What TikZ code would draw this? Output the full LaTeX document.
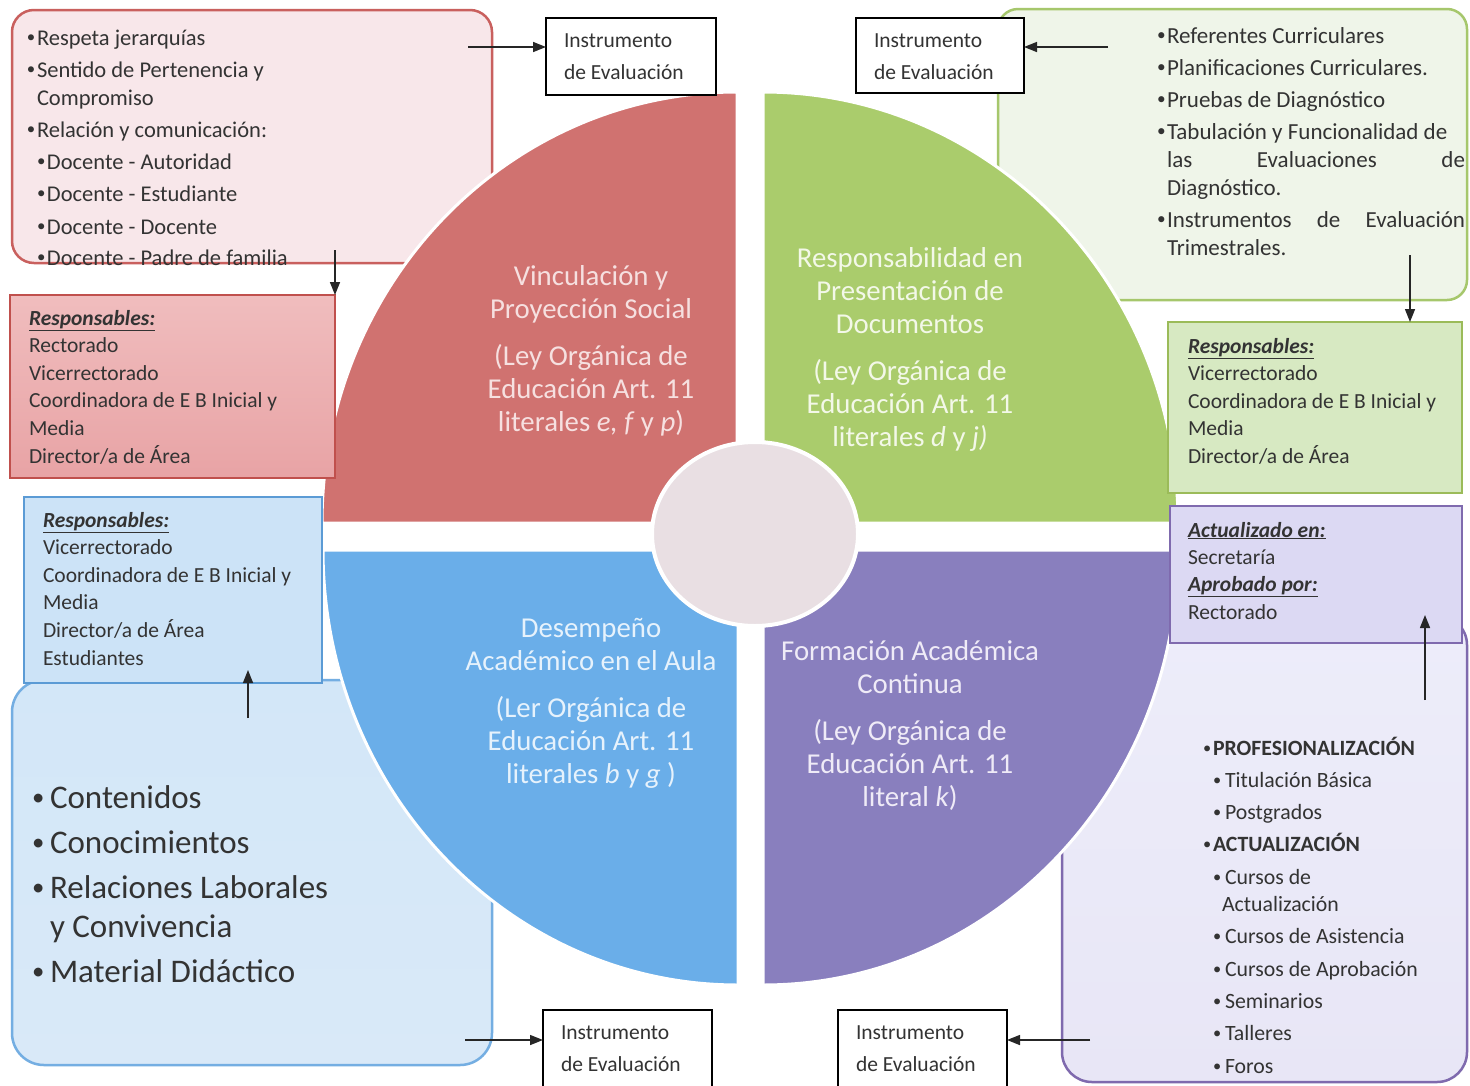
\documentclass[tikz,border=0pt]{standalone}
\usepackage{fontspec}
\usepackage{graphicx}
\setmainfont{Carlito}
\usetikzlibrary{arrows.meta}
\definecolor{qred}{HTML}{D07270}
\definecolor{qgreen}{HTML}{AACC6C}
\definecolor{qblue}{HTML}{6AAEE9}
\definecolor{qpurple}{HTML}{897FBE}
\definecolor{cpink}{HTML}{E9DFE3}
\definecolor{pinkfill}{HTML}{F8E7EA}
\definecolor{pinkline}{HTML}{C9605E}
\definecolor{redtop}{HTML}{F0BDBE}
\definecolor{redbot}{HTML}{E8A3A5}
\definecolor{redline}{HTML}{C0504D}
\definecolor{bluerespfill}{HTML}{CCE3F7}
\definecolor{blueline}{HTML}{5B9BD5}
\definecolor{bluebigline}{HTML}{74AEE2}
\definecolor{bluetop}{HTML}{D3E7F8}
\definecolor{bluemid}{HTML}{F0E7F1}
\definecolor{bluebot}{HTML}{D9E9F8}
\definecolor{greenbigfill}{HTML}{EFF5E9}
\definecolor{greenline}{HTML}{A6C76C}
\definecolor{greenrespfill}{HTML}{D7E9C2}
\definecolor{greenrespline}{HTML}{9BBB59}
\definecolor{purprespfill}{HTML}{DCD9F3}
\definecolor{purpline}{HTML}{7F6AAE}
\definecolor{purptop}{HTML}{EDEDFA}
\definecolor{purpmid}{HTML}{F5E9F1}
\definecolor{purpbot}{HTML}{E8E6F6}
\definecolor{textc}{HTML}{333333}
\definecolor{tred}{HTML}{F6E0E0}
\definecolor{tgreen}{HTML}{F3F8E8}
\definecolor{tblue}{HTML}{E6F2FC}
\definecolor{tpurple}{HTML}{EFEBF7}
\newcommand\fs[2]{\fontsize{#1}{#2}\selectfont}
\newcommand\dotb{\raisebox{0.09em}{\scalebox{0.75}{\textbullet}}}
\newcommand\bu{\makebox[10pt][l]{\dotb}}
\newcommand\bus{\makebox[12pt][l]{\dotb}}
\newcommand\bub{\makebox[18pt][l]{\dotb}}
\newcommand\resp[1]{\underline{\textbf{\textit{#1}}}}
\tikzset{
  box/.style={inner sep=0pt, outer sep=0pt, anchor=north west, line width=2.5pt},
  inst/.style={box, draw=black, fill=white, line width=1.5pt},
  txt/.style={inner sep=0pt, outer sep=0pt, anchor=base west, text=textc},
  qtxt/.style={inner sep=0pt, outer sep=0pt, anchor=base},
  quad/.style={draw=white, line width=3pt},
  arr/.style={-{Triangle[length=13pt,width=10pt]}, line width=1.5pt, draw=black!85},
}
\begin{document}
\begin{tikzpicture}[x=1pt,y=-1pt]
\clip (0,0) rectangle (1470,1085);
\fill[white] (0,0) rectangle (1470,1085);

% big background boxes
\node[box, draw=pinkline, fill=pinkfill, rounded corners=22pt, minimum width=480pt, minimum height=253pt] (pinkbox) at (12,10) {};
\node[box, draw=greenline, fill=greenbigfill, rounded corners=20pt, minimum width=469pt, minimum height=291pt] (greenbox) at (998,9) {};
\node[box, draw=bluebigline, top color=bluetop, middle color=bluemid, bottom color=bluebot, rounded corners=32pt, minimum width=480pt, minimum height=385pt] (bluebox) at (12,680) {};
\node[box, draw=purpline, top color=purptop, middle color=purpmid, bottom color=purpbot, rounded corners=30pt, minimum width=405pt, minimum height=467pt] (purpbox) at (1062,615) {};

% quadrants
\fill[qred, quad] (737,523) -- (322,523) arc[start angle=180, end angle=90, x radius=415pt, y radius=431pt] -- cycle;
\fill[qgreen, quad] (763,523) -- (763,92) arc[start angle=90, end angle=0, x radius=415pt, y radius=431pt] -- cycle;
\fill[qblue, quad] (738,550) -- (323,550) arc[start angle=180, end angle=270, x radius=415pt, y radius=435pt] -- cycle;
\fill[qpurple, quad] (763,550) -- (1178,550) arc[start angle=0, end angle=-90, x radius=415pt, y radius=435pt] -- cycle;
\fill[cpink, draw=white, line width=4pt] (755,534) ellipse [x radius=103pt, y radius=92pt];

% small boxes
\node[box, draw=redline, top color=redtop, bottom color=redbot, minimum width=325pt, minimum height=183pt] (redresp) at (10,295) {};
\node[box, draw=blueline, fill=bluerespfill, minimum width=298pt, minimum height=186pt] (blueresp) at (24,497) {};
\node[box, draw=greenrespline, fill=greenrespfill, minimum width=294pt, minimum height=171pt] (greenresp) at (1168,322) {};
\node[box, draw=purpline, fill=purprespfill, minimum width=292pt, minimum height=137pt] (purpresp) at (1170,506) {};

\node[inst, minimum width=170pt, minimum height=77pt] (inst1) at (546,18) {};
\node[inst, minimum width=168pt, minimum height=75pt] (inst2) at (856,18) {};
\node[inst, minimum width=169pt, minimum height=90pt] (inst3) at (543,1010) {};
\node[inst, minimum width=169pt, minimum height=90pt] (inst4) at (838,1010) {};

% instrument texts
\node[txt] (i1t) at (564,47) {\parbox[t]{150pt}{\fs{21.5}{32}Instrumento\\de Evaluación}};
\node[txt] (i2t) at (874,47) {\parbox[t]{150pt}{\fs{21.5}{32}Instrumento\\de Evaluación}};
\node[txt] (i3t) at (561,1039) {\parbox[t]{150pt}{\fs{21.5}{32}Instrumento\\de Evaluación}};
\node[txt] (i4t) at (856,1039) {\parbox[t]{150pt}{\fs{21.5}{32}Instrumento\\de Evaluación}};

% top-left pink text
\node[txt] (pinkt) at (27,45) {\parbox[t]{440pt}{\fs{22.5}{32}\raggedright
\bu Respeta jerarquías\\
\bu Sentido de Pertenencia y\\[-4pt]
\hspace*{10pt}Compromiso\\
\bu Relación y comunicación:\\
\hspace*{10pt}\bu Docente - Autoridad\\
\hspace*{10pt}\bu Docente - Estudiante\\[1pt]
\hspace*{10pt}\bu Docente - Docente\\[-1pt]
\hspace*{10pt}\bu Docente - Padre de familia}};

% responsables texts
\node[txt] (redt) at (29,325) {\parbox[t]{300pt}{\fs{21.5}{27.6}\raggedright
\resp{Responsables:}\\
Rectorado\\
Vicerrectorado\\
Coordinadora de E B Inicial y\\
Media\\
Director/a de Área}};
\node[txt] (bluet) at (43,527) {\parbox[t]{280pt}{\fs{21.5}{27.6}\raggedright
\resp{Responsables:}\\
Vicerrectorado\\
Coordinadora de E B Inicial y\\
Media\\
Director/a de Área\\
Estudiantes}};
\node[txt] (greent) at (1188,353) {\parbox[t]{280pt}{\fs{21.5}{27.6}\raggedright
\resp{Responsables:}\\
Vicerrectorado\\
Coordinadora de E B Inicial y\\
Media\\
Director/a de Área}};
\node[txt] (purpt) at (1188,537) {\parbox[t]{270pt}{\fs{21.5}{27.4}\raggedright
\resp{Actualizado en:}\\
Secretaría\\
\resp{Aprobado por:}\\
Rectorado}};

% green big box text
\node[txt] (greenlist) at (1157,43) {\parbox[t]{310pt}{\fs{23}{32}\raggedright
\bu Referentes Curriculares\\
\bu Planificaciones Curriculares.\\
\bu Pruebas de Diagnóstico\\
\bu Tabulación y Funcionalidad de\\[-4pt]
\hspace*{10pt}\makebox[298pt][l]{las\hfill Evaluaciones\hfill de}\\[-4pt]
\hspace*{10pt}Diagnóstico.\\
\bu\makebox[298pt][l]{Instrumentos\hfill de\hfill Evaluación}\\[-4pt]
\hspace*{10pt}Trimestrales.}};

% blue big box text
\node[txt] (bluelist) at (32,808) {\parbox[t]{450pt}{\fs{33}{45}\raggedright
\bub Contenidos\\
\bub Conocimientos\\
\bub Relaciones Laborales\\[-6pt]
\hspace*{18pt}y Convivencia\\
\bub Material Didáctico}};

% purple big box text
\node[txt] (purplist) at (1203,755) {\parbox[t]{260pt}{\fs{21.8}{32.3}\raggedright
\bu\textbf{PROFESIONALIZACIÓN}\\
\hspace*{10pt}\bus Titulación Básica\\
\hspace*{10pt}\bus Postgrados\\
\bu\textbf{ACTUALIZACIÓN}\\
\hspace*{10pt}\bus Cursos de\\[-5pt]
\hspace*{19pt}Actualización\\
\hspace*{10pt}\bus Cursos de Asistencia\\
\hspace*{10pt}\bus Cursos de Aprobación\\
\hspace*{10pt}\bus Seminarios\\
\hspace*{10pt}\bus Talleres\\
\hspace*{10pt}\bus Foros}};

% quadrant texts
\node[qtxt, text=tred] (qrt) at (591,285) {\parbox[t]{340pt}{\centering\fs{28.8}{33}
Vinculación y\\
Proyección Social\\[14pt]
(Ley Orgánica de\\
Educación Art. 11\\
literales \textit{e, f} y \textit{p})}};
\node[qtxt, text=tgreen] (qgt) at (910,267) {\parbox[t]{340pt}{\centering\fs{28.8}{33}
Responsabilidad en\\
Presentación de\\
Documentos\\[14pt]
(Ley Orgánica de\\
Educación Art. 11\\
literales \textit{d} y \textit{j)}}};
\node[qtxt, text=tblue] (qbt) at (591,637) {\parbox[t]{340pt}{\centering\fs{28.8}{33}
Desempeño\\
Académico en el Aula\\[14pt]
(Ler Orgánica de\\
Educación Art. 11\\
literales \textit{b} y \textit{g} )}};
\node[qtxt, text=tpurple] (qpt) at (910,660) {\parbox[t]{340pt}{\centering\fs{28.8}{33}
Formación Académica\\
Continua\\[14pt]
(Ley Orgánica de\\
Educación Art. 11\\
literal \textit{k})}};

% arrows
\coordinate (a1) at (468,47);
\draw[arr] (a1) -- (a1 -| inst1.west);
\coordinate (a2) at (1108,47);
\draw[arr] (a2) -- (a2 -| inst2.east);
\coordinate (a3) at (335,250);
\draw[arr] (a3) -- (a3 |- redresp.north);
\coordinate (a4) at (1410,255);
\draw[arr] (a4) -- (a4 |- greenresp.north);
\coordinate (a5) at (248,718);
\draw[arr, shorten >=-13pt] (a5) -- (a5 |- blueresp.south);
\coordinate (a6) at (1425,700);
\draw[arr, shorten >=-28pt] (a6) -- (a6 |- purpresp.south);
\coordinate (a7) at (465,1040);
\draw[arr] (a7) -- (a7 -| inst3.west);
\coordinate (a8) at (1090,1040);
\draw[arr] (a8) -- (a8 -| inst4.east);
\end{tikzpicture}
\end{document}
